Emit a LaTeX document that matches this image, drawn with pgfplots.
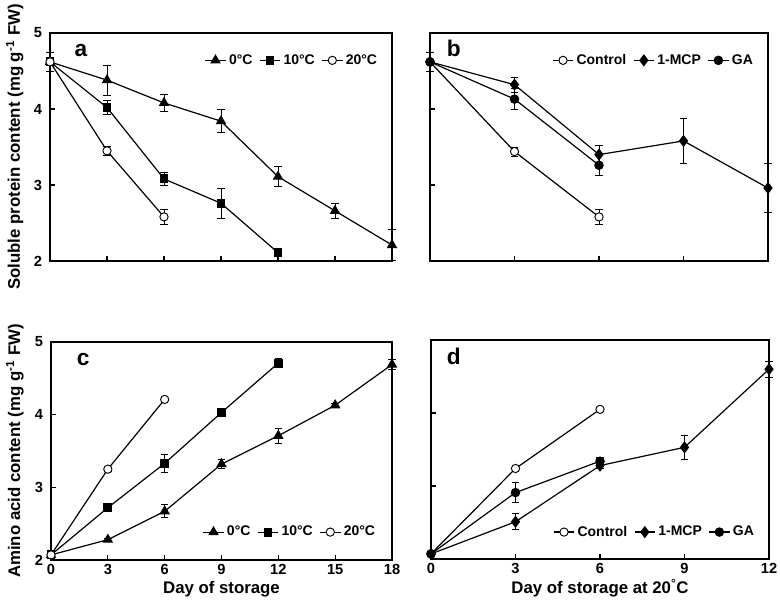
\documentclass[border=0pt]{standalone}
\usepackage{fontspec}
\setmainfont{Liberation Sans}
\usepackage{pgfplots}
\pgfplotsset{compat=1.18}
\usepackage{pgfplotstable}

\pgfplotstableread{
x y e
0 4.62 0
3 4.38 0.20
6 4.08 0.11
9 3.84 0.15
12 3.11 0.13
15 2.66 0.10
18 2.21 0.20
}\aZero
\pgfplotstableread{
x y e
0 4.62 0
3 4.02 0.09
6 3.08 0.08
9 2.76 0.20
12 2.11 0.03
}\aTen
\pgfplotstableread{
x y e
0 4.62 0.12
3 3.45 0.06
6 2.58 0.10
}\aTwenty
\pgfplotstableread{
x y e
0 4.62 0.12
3 3.44 0.06
6 2.58 0.10
}\bCtrl
\pgfplotstableread{
x y e
0 4.62 0
3 4.32 0.10
6 3.40 0.12
9 3.58 0.29
12 2.96 0.32
}\bMCP
\pgfplotstableread{
x y e
0 4.62 0
3 4.13 0.14
6 3.26 0.13
}\bGA
\pgfplotstableread{
x y e
0 2.07 0
3 2.28 0.02
6 2.67 0.09
9 3.32 0.06
12 3.71 0.10
15 4.13 0.02
18 4.69 0.07
}\cZero
\pgfplotstableread{
x y e
0 2.07 0
3 2.72 0.03
6 3.33 0.12
9 4.03 0.06
12 4.71 0.06
}\cTen
\pgfplotstableread{
x y e
0 2.07 0.03
3 3.25 0.03
6 4.21 0.03
}\cTwenty
\pgfplotstableread{
x y e
0 2.07 0
3 3.24 0.03
6 4.05 0.03
}\dCtrl
\pgfplotstableread{
x y e
0 2.07 0
3 2.51 0.11
6 3.28 0.04
9 3.53 0.16
12 4.60 0.11
}\dMCP
\pgfplotstableread{
x y e
0 2.07 0.03
3 2.91 0.14
6 3.34 0.05
}\dGA

\pgfplotsset{
  panel/.style={
    scale only axis, anchor=south west,
    xmin=0, ymin=2, ymax=5, ytick={2,3,4,5},
    tick align=inside, xtick pos=bottom, ytick pos=left,
    axis line style={line width=1pt},
    major tick length=4pt,
    tick style={line width=0.8pt, black},
    tick label style={font=\bfseries\fontsize{11}{12}\selectfont},
    yticklabel style={xshift=-2.5pt},
    xticklabel style={yshift=0.5pt},
    /pgf/number format/assume math mode=true,
    label style={font=\bfseries\fontsize{12.6}{14}\selectfont},
    clip=false,
    legend style={draw=none, fill=none, font=\bfseries\fontsize{10.5}{12}\selectfont,
      legend columns=3, inner sep=0pt,
      /tikz/every even column/.append style={column sep=3pt}},
    legend image code/.code={\draw[mark repeat=2,mark phase=2] plot coordinates {(0cm,0cm)(0.27cm,0cm)(0.54cm,0cm)};},
    error bars/y dir=both, error bars/y explicit,
    error bars/error bar style={line width=0.6pt, black},
    error bars/error mark options={rotate=90, mark size=2.8pt, line width=0.6pt, black},
  },
}
\tikzset{
  ln/.style={black, line width=0.9pt},
  tri/.style={ln, mark=triangle*, mark size=3.7pt, mark options={solid, draw=black, fill=black}},
  sq/.style={ln, mark=square*, mark size=2.9pt, mark options={solid, draw=black, fill=black}},
  oc/.style={ln, mark=*, mark size=3.1pt, mark options={solid, draw=black, fill=white, line width=0.7pt}},
  dia/.style={ln, mark=diamond*, mark size=3.9pt, mark options={solid, draw=black, fill=black}},
  dot/.style={ln, mark=*, mark size=3.1pt, mark options={solid, draw=black, fill=black}},
  plet/.style={anchor=base west, font=\bfseries\fontsize{17}{19}\selectfont},
}

\begin{document}
\begin{tikzpicture}
\path[use as bounding box] (0,0) rectangle (585pt,456pt);

% panel a
\begin{axis}[panel, at={(37.5pt,260.25pt)}, width=256.5pt, height=171pt,
  xmax=18, xtick={0,3,...,18}, xticklabels={},
  ylabel={Soluble protein content (mg g\textsuperscript{-1} FW)},
  ylabel style={at={(axis description cs:-0.103,0.5)}, anchor=center},
  legend style={at={(axis description cs:0.965,0.88)}, anchor=east}]
\addplot[tri] table[x=x,y=y,y error=e]{\aZero};
\addlegendentry{0°C}
\addplot[sq] table[x=x,y=y,y error=e]{\aTen};
\addlegendentry{10°C}
\addplot[oc] table[x=x,y=y,y error=e]{\aTwenty};
\addlegendentry{20°C}
\node[plet] at (axis description cs:0.058,0.895) {a};
\end{axis}

% panel b
\begin{axis}[panel, at={(322.5pt,260.25pt)}, width=253.5pt, height=171pt,
  xmax=12, xtick={0,3,...,12}, xticklabels={}, yticklabels={},
  legend style={at={(axis description cs:0.964,0.88)}, anchor=east}]
\addplot[oc] table[x=x,y=y,y error=e]{\bCtrl};
\addlegendentry{Control}
\addplot[dia] table[x=x,y=y,y error=e]{\bMCP};
\addlegendentry{1-MCP}
\addplot[dot] table[x=x,y=y,y error=e]{\bGA};
\addlegendentry{GA}
\node[plet] at (axis description cs:0.036,0.899) {b};
\end{axis}

% panel c
\begin{axis}[panel, at={(38.25pt,36pt)}, width=255.75pt, height=163.5pt,
  xmax=18, xtick={0,3,...,18},
  xlabel={Day of storage},
  xlabel style={at={(axis description cs:0.5,-0.135)}, anchor=center},
  ylabel={Amino acid content (mg g\textsuperscript{-1} FW)},
  ylabel style={at={(axis description cs:-0.106,0.5)}, anchor=center},
  legend style={at={(axis description cs:0.959,0.128)}, anchor=east}]
\addplot[tri] table[x=x,y=y,y error=e]{\cZero};
\addlegendentry{0°C}
\addplot[sq] table[x=x,y=y,y error=e]{\cTen};
\addlegendentry{10°C}
\addplot[oc] table[x=x,y=y,y error=e]{\cTwenty};
\addlegendentry{20°C}
\node[plet] at (axis description cs:0.062,0.894) {c};
\end{axis}

% panel d
\begin{axis}[panel, at={(323.25pt,36.75pt)}, width=253.5pt, height=164.25pt,
  xmax=12, xtick={0,3,...,12}, yticklabels={},
  xlabel={Day of storage at 20\textsuperscript{°}C},
  xlabel style={at={(axis description cs:0.5,-0.135)}, anchor=center},
  legend style={at={(axis description cs:0.964,0.123)}, anchor=east}]
\addplot[oc] table[x=x,y=y,y error=e]{\dCtrl};
\addlegendentry{Control}
\addplot[dia] table[x=x,y=y,y error=e]{\dMCP};
\addlegendentry{1-MCP}
\addplot[dot] table[x=x,y=y,y error=e]{\dGA};
\addlegendentry{GA}
\node[plet] at (axis description cs:0.033,0.886) {d};
\end{axis}
\end{tikzpicture}
\end{document}
